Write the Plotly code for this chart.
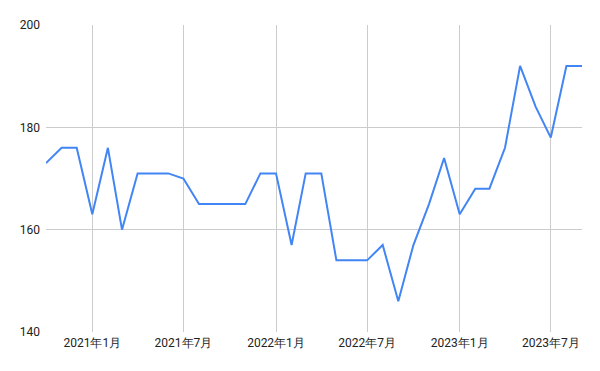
import plotly.graph_objects as go

months = ["2020-10-01", "2020-11-01", "2020-12-01", "2021-01-01", "2021-02-01", "2021-03-01",
          "2021-04-01", "2021-05-01", "2021-06-01", "2021-07-01", "2021-08-01", "2021-09-01",
          "2021-10-01", "2021-11-01", "2021-12-01", "2022-01-01", "2022-02-01", "2022-03-01",
          "2022-04-01", "2022-05-01", "2022-06-01", "2022-07-01", "2022-08-01", "2022-09-01",
          "2022-10-01", "2022-11-01", "2022-12-01", "2023-01-01", "2023-02-01", "2023-03-01",
          "2023-04-01", "2023-05-01", "2023-06-01", "2023-07-01", "2023-08-01", "2023-09-01"]
values = [173, 176, 176, 163, 176, 160,
          171, 171, 171, 170, 165, 165,
          165, 165, 171, 171, 157, 171,
          171, 154, 154, 154, 157, 146,
          157, 165, 174, 163, 168, 168,
          176, 192, 184, 178, 192, 192]

tick_vals = ["2021-01-01", "2021-07-01", "2022-01-01", "2022-07-01", "2023-01-01", "2023-07-01"]
tick_text = ["2021年1月", "2021年7月", "2022年1月", "2022年7月", "2023年1月", "2023年7月"]
y_ticks = [140, 160, 180, 200]

fig = go.Figure()
fig.add_trace(go.Scatter(x=months, y=values, mode="lines",
                         line=dict(color="#4285F4", width=2), hoverinfo="x+y"))

fig.update_layout(
    width=600, height=371,
    margin=dict(l=46, r=18, t=25, b=39),
    paper_bgcolor="white", plot_bgcolor="white",
    showlegend=False,
    font=dict(family="Roboto, Arial, sans-serif", size=12, color="#222222"),
    xaxis=dict(range=[months[0], months[-1]], tickvals=tick_vals, ticktext=tick_text,
               showgrid=True, gridcolor="#cccccc", gridwidth=1, zeroline=False,
               showline=False, ticks="", ticklabelstandoff=2,
               tickfont=dict(size=12, color="#222222")),
    yaxis=dict(range=[140, 200], tickvals=y_ticks, showgrid=True, gridcolor="#cccccc",
               gridwidth=1, zeroline=False, showline=False, ticks="",
               ticklabelstandoff=5, tickfont=dict(size=12, color="#222222")),
)

fig.write_html("out.html")
